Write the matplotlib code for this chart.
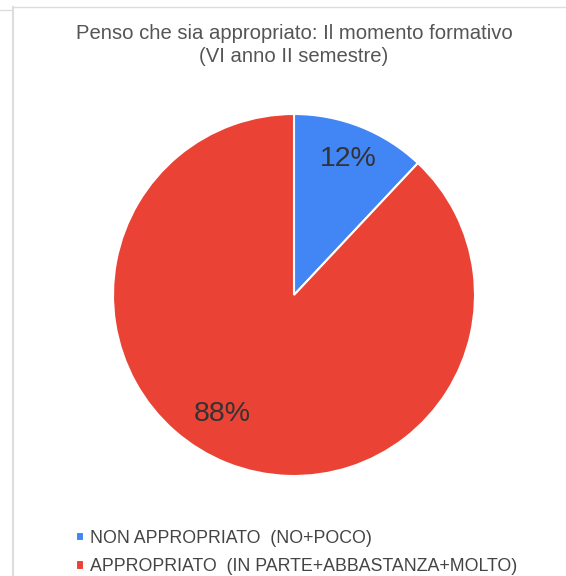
import numpy as np
import matplotlib.pyplot as plt
from matplotlib.lines import Line2D

labels = ["NON APPROPRIATO  (NO+POCO)", "APPROPRIATO  (IN PARTE+ABBASTANZA+MOLTO)"]
values = [12, 88]
colors = ["#4285F4", "#EA4335"]
title = "Penso che sia appropriato: Il momento formativo\n(VI anno II semestre)"

plt.rcParams["font.family"] = ["Liberation Sans", "DejaVu Sans"]

W, H = 566, 576
fig = plt.figure(figsize=(W / 100, H / 100), dpi=100)

# pie centre (294, 295) px, radius 181 px
cx, cy, r = 294, 295, 181
ax = fig.add_axes([(cx - r) / W, (H - cy - r) / H, 2 * r / W, 2 * r / H])
wedges, _, autotexts = ax.pie(values, colors=colors, startangle=90, counterclock=False,
                              autopct="%d%%", pctdistance=0.8,
                              wedgeprops=dict(edgecolor="white", linewidth=1.5),
                              textprops=dict(fontsize=20.5, color="#333333"))
ax.set_xlim(-1, 1)
ax.set_ylim(-1, 1)
ax.set_aspect("auto")

# label placement like the sheet: (angle offset from slice middle, distance)
for t, w, (da, d) in zip(autotexts, wedges, [(0, 0.81), (-9.5, 0.77)]):
    a = np.deg2rad((w.theta1 + w.theta2) / 2 + da)
    t.set_position((d * np.cos(a), d * np.sin(a)))

fig.text(cx / W, 1 - 45 / H, title, ha="center", va="center", fontsize=14.6,
         color="#555555", linespacing=1.25)

leg = fig.legend(wedges, labels, loc="upper left", bbox_to_anchor=(76 / W, 1 - 530 / H),
                 frameon=False, fontsize=12.8, handlelength=0.45, handleheight=0.45,
                 handletextpad=0.35, labelspacing=0.64, borderaxespad=0, borderpad=0)
for t in leg.get_texts():
    t.set_color("#444444")

# screenshot frame lines
fig.add_artist(Line2D([12.5 / W, 12.5 / W], [0, 1 - 7 / H], transform=fig.transFigure,
                      color="#dddddd", lw=1.5))
fig.add_artist(Line2D([12.5 / W, 1], [1 - 7 / H, 1 - 7 / H], transform=fig.transFigure,
                      color="#dddddd", lw=1.0))
fig.add_artist(Line2D([0, 11 / W], [1 - 10 / H, 1 - 10 / H], transform=fig.transFigure,
                      color="#dddddd", lw=1.0))

fig.savefig("out.png", dpi=100, facecolor="white")
